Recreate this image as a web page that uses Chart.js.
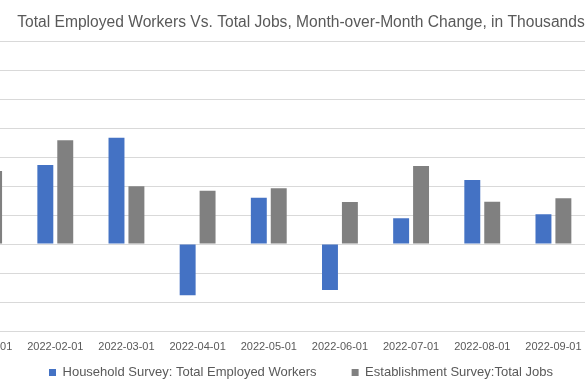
<!DOCTYPE html>
<html>
<head>
<meta charset="utf-8">
<script src="https://cdn.jsdelivr.net/npm/chart.js@4.4.0/dist/chart.umd.min.js"></script>
<style>
  html, body { margin: 0; padding: 0; background: #ffffff; overflow: hidden; width: 585px; height: 390px; }
  #wrap { position: absolute; left: -53px; top: 0; width: 708px; height: 390px; }
</style>
</head>
<body>
<div id="wrap"><canvas id="chart" width="708" height="390"></canvas></div>
<script>
// ---- Data (thousands, month-over-month change) ----
const categories = ['2022-01-01', '2022-02-01', '2022-03-01', '2022-04-01', '2022-05-01',
                    '2022-06-01', '2022-07-01', '2022-08-01', '2022-09-01'];
const householdWorkers = [1199, 545, 733, -354, 319, -317, 177, 441, 205];
const establishmentJobs = [503, 715, 398, 368, 384, 290, 538, 292, 315];
const seriesNames = ['Household Survey: Total Employed Workers', 'Establishment Survey:Total Jobs'];
const titleText = 'Total Employed Workers Vs. Total Jobs, Month-over-Month Change, in Thousands';
const yMin = -600;
const yMax = 1400;
const yStep = 200;

const FONT = "'Liberation Sans', Arial, sans-serif";
const TEXT = '#595959';
const GRID = '#d9d9d9';

// The category labels share vertical space with the (wide-gapped) legend box:
// the x scale takes no layout height, but its label clip region is extended.
const labelRoom = {
  id: 'labelRoom',
  afterLayout(chart) {
    const x = chart.scales.x;
    if (x) { x.bottom = x.top + 24; }
  }
};

new Chart(document.getElementById('chart'), {
  type: 'bar',
  data: {
    labels: categories,
    datasets: [
      { label: seriesNames[0], data: householdWorkers, backgroundColor: '#4472c4', borderWidth: 0 },
      { label: seriesNames[1], data: establishmentJobs, backgroundColor: '#808080', borderWidth: 0 }
    ]
  },
  plugins: [labelRoom],
  options: {
    responsive: false,
    devicePixelRatio: 1,
    animation: false,
    categoryPercentage: 0.56,
    barPercentage: 0.8,
    layout: { padding: { top: 0, bottom: 1, left: 0, right: 0 } },
    scales: {
      x: {
        grid: { display: false, drawTicks: false },
        border: { display: false },
        ticks: { color: TEXT, font: { family: FONT, size: 11 }, padding: 9, maxRotation: 0, autoSkip: false },
        afterFit: (s) => { s.height = 0; }
      },
      y: {
        min: yMin, max: yMax,
        ticks: { display: false, stepSize: yStep },
        grid: { color: GRID, lineWidth: 1, drawTicks: false },
        border: { display: false }
      },
      spacer: {
        position: 'right',
        display: true,
        grid: { display: false, drawTicks: false },
        border: { display: false },
        ticks: { display: false },
        afterFit: (s) => { s.width = 66; }
      }
    },
    plugins: {
      title: {
        display: true,
        text: titleText,
        color: TEXT,
        font: { family: FONT, size: 15.6, weight: 'normal' },
        padding: { top: 13.6, bottom: 8.7 }
      },
      legend: {
        position: 'bottom',
        labels: {
          boxWidth: 7, boxHeight: 7, padding: 35,
          color: TEXT, font: { family: FONT, size: 13 }
        }
      },
      tooltip: { enabled: false }
    }
  }
});
</script>
</body>
</html>
